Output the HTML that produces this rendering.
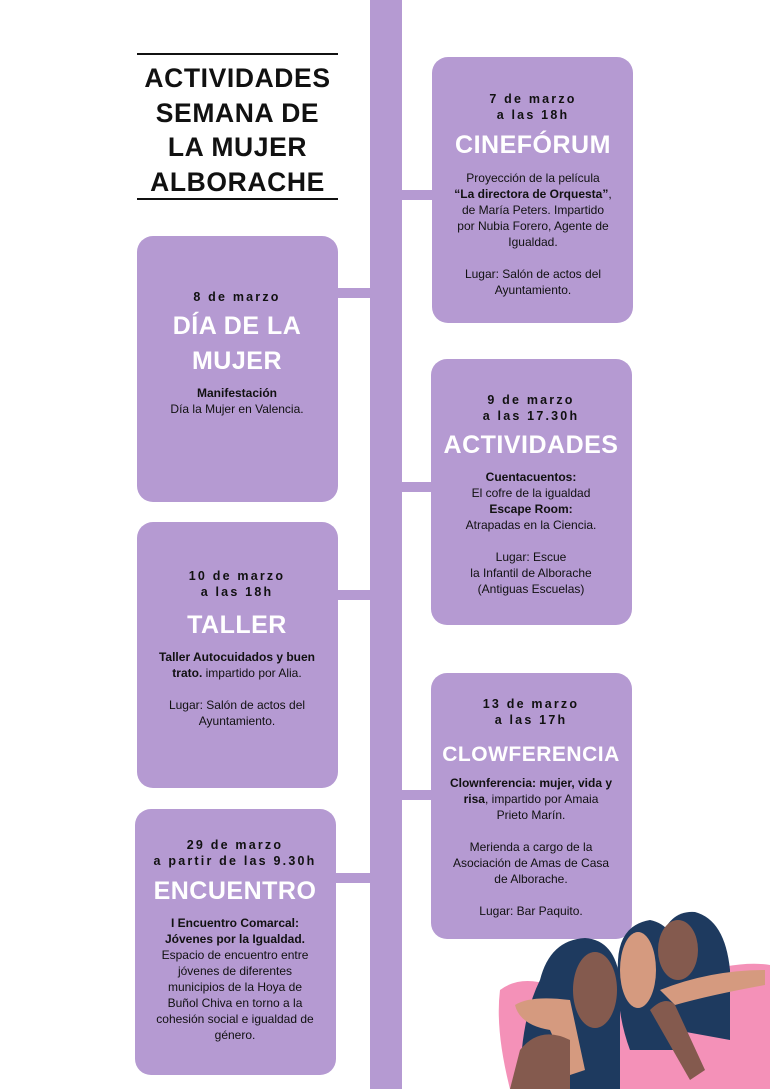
<!DOCTYPE html>
<html><head><meta charset="utf-8"><style>
body{margin:0;width:770px;height:1089px;background:#fff;position:relative;overflow:hidden;font-family:"Liberation Sans",sans-serif}
.p{position:absolute;background:#b59ad2}
.box{position:absolute;background:#b59ad2;border-radius:16px;width:201px;height:266px}
.t{position:absolute;width:230px;text-align:center;color:#111}
.d{font-size:12.5px;font-weight:bold;letter-spacing:2.2px;line-height:16px}
.h{color:#fff;font-weight:bold;font-size:25px;line-height:35px;letter-spacing:0.5px}
.b{font-size:12px;line-height:16px}
.title{position:absolute;left:127px;width:221px;text-align:center;font-weight:bold;font-size:26.5px;line-height:34.5px;color:#111;top:61px;letter-spacing:0.6px}
.rule{position:absolute;left:137px;width:201px;height:2px;background:#111}
</style></head><body>
<div class="p" style="left:370px;top:0;width:32px;height:1089px"></div>
<div class="p" style="left:402px;top:190px;width:32px;height:10px"></div>
<div class="p" style="left:336px;top:288px;width:36px;height:10px"></div>
<div class="p" style="left:402px;top:482px;width:32px;height:10px"></div>
<div class="p" style="left:336px;top:590px;width:36px;height:10px"></div>
<div class="p" style="left:402px;top:790px;width:32px;height:10px"></div>
<div class="p" style="left:334px;top:873px;width:38px;height:10px"></div>

<div class="rule" style="top:53px"></div>
<div class="rule" style="top:198px"></div>
<div class="title">ACTIVIDADES<br>SEMANA DE<br>LA MUJER<br>ALBORACHE</div>

<div class="box" style="left:432px;top:57px"></div>
<div class="box" style="left:137px;top:236px"></div>
<div class="box" style="left:431px;top:359px"></div>
<div class="box" style="left:137px;top:522px"></div>
<div class="box" style="left:431px;top:673px"></div>
<div class="box" style="left:135px;top:809px"></div>

<div class="t" style="left:418px;top:91px"><div class="d">7 de marzo<br>a las 18h</div></div>
<div class="t" style="left:418px;top:128px"><div class="h">CINEFÓRUM</div></div>
<div class="t" style="left:418px;top:170px"><div class="b">Proyección de la película<br><b>“La directora de Orquesta”</b>,<br>de María Peters. Impartido<br>por Nubia Forero, Agente de<br>Igualdad.<br><br>Lugar: Salón de actos del<br>Ayuntamiento.</div></div>

<div class="t" style="left:122px;top:289px"><div class="d">8 de marzo</div></div>
<div class="t" style="left:122px;top:309px"><div class="h">DÍA DE LA<br>MUJER</div></div>
<div class="t" style="left:122px;top:385px"><div class="b"><b>Manifestación</b><br>Día la Mujer en Valencia.</div></div>

<div class="t" style="left:416px;top:392px"><div class="d">9 de marzo<br>a las 17.30h</div></div>
<div class="t" style="left:416px;top:428px"><div class="h">ACTIVIDADES</div></div>
<div class="t" style="left:416px;top:469px"><div class="b"><b>Cuentacuentos:</b><br>El cofre de la igualdad<br><b>Escape Room:</b><br>Atrapadas en la Ciencia.<br><br>Lugar: Escue<br>la Infantil de Alborache<br>(Antiguas Escuelas)</div></div>

<div class="t" style="left:122px;top:568px"><div class="d">10 de marzo<br>a las 18h</div></div>
<div class="t" style="left:122px;top:608px"><div class="h">TALLER</div></div>
<div class="t" style="left:122px;top:649px"><div class="b"><b>Taller Autocuidados y buen<br>trato.</b> impartido por Alia.<br><br>Lugar: Salón de actos del<br>Ayuntamiento.</div></div>

<div class="t" style="left:416px;top:696px"><div class="d">13 de marzo<br>a las 17h</div></div>
<div class="t" style="left:416px;top:737px"><div class="h" style="font-size:21px">CLOWFERENCIA</div></div>
<div class="t" style="left:416px;top:775px"><div class="b"><b>Clownferencia: mujer, vida y<br>risa</b>, impartido por Amaia<br>Prieto Marín.<br><br>Merienda a cargo de la<br>Asociación de Amas de Casa<br>de Alborache.<br><br>Lugar: Bar Paquito.</div></div>

<div class="t" style="left:120px;top:837px"><div class="d">29 de marzo<br>a partir de las 9.30h</div></div>
<div class="t" style="left:120px;top:874px"><div class="h">ENCUENTRO</div></div>
<div class="t" style="left:120px;top:915px"><div class="b"><b>I Encuentro Comarcal:<br>Jóvenes por la Igualdad.</b><br>Espacio de encuentro entre<br>jóvenes de diferentes<br>municipios de la Hoya de<br>Buñol Chiva en torno a la<br>cohesión social e igualdad de<br>género.</div></div>

<svg style="position:absolute;left:490px;top:900px" width="280" height="189" viewBox="0 0 280 189">
<path d="M10 90 Q30 75 60 85 L120 110 L150 100 L200 75 Q250 60 280 65 L280 189 L20 189 Q5 130 10 90Z" fill="#f491b8"/>
<path d="M50 80 Q60 40 95 38 Q125 40 130 80 L130 189 L30 189 Q30 120 50 80Z" fill="#1e3a5f"/>
<path d="M128 60 Q130 25 160 20 Q185 25 190 60 L190 150 L140 150 Q125 110 128 60Z" fill="#1e3a5f"/>
<path d="M170 40 Q180 10 205 12 Q235 20 240 70 L240 140 L185 130 Z" fill="#1e3a5f"/>
<ellipse cx="105" cy="90" rx="22" ry="38" fill="#845a4e"/>
<ellipse cx="148" cy="70" rx="18" ry="38" fill="#d59a7f"/>
<ellipse cx="188" cy="50" rx="20" ry="30" fill="#845a4e"/>
<path d="M25 105 Q40 95 80 100 L95 170 L80 175 L60 130 Q30 125 25 105Z" fill="#d59a7f"/>
<path d="M170 90 Q220 70 275 70 L275 85 Q220 95 185 105Z" fill="#d59a7f"/>
<path d="M160 110 Q175 95 185 105 L215 170 L200 180 Z" fill="#845a4e"/>
<path d="M30 150 Q50 125 80 140 L80 189 L20 189Z" fill="#845a4e"/>
</svg>
</body></html>
